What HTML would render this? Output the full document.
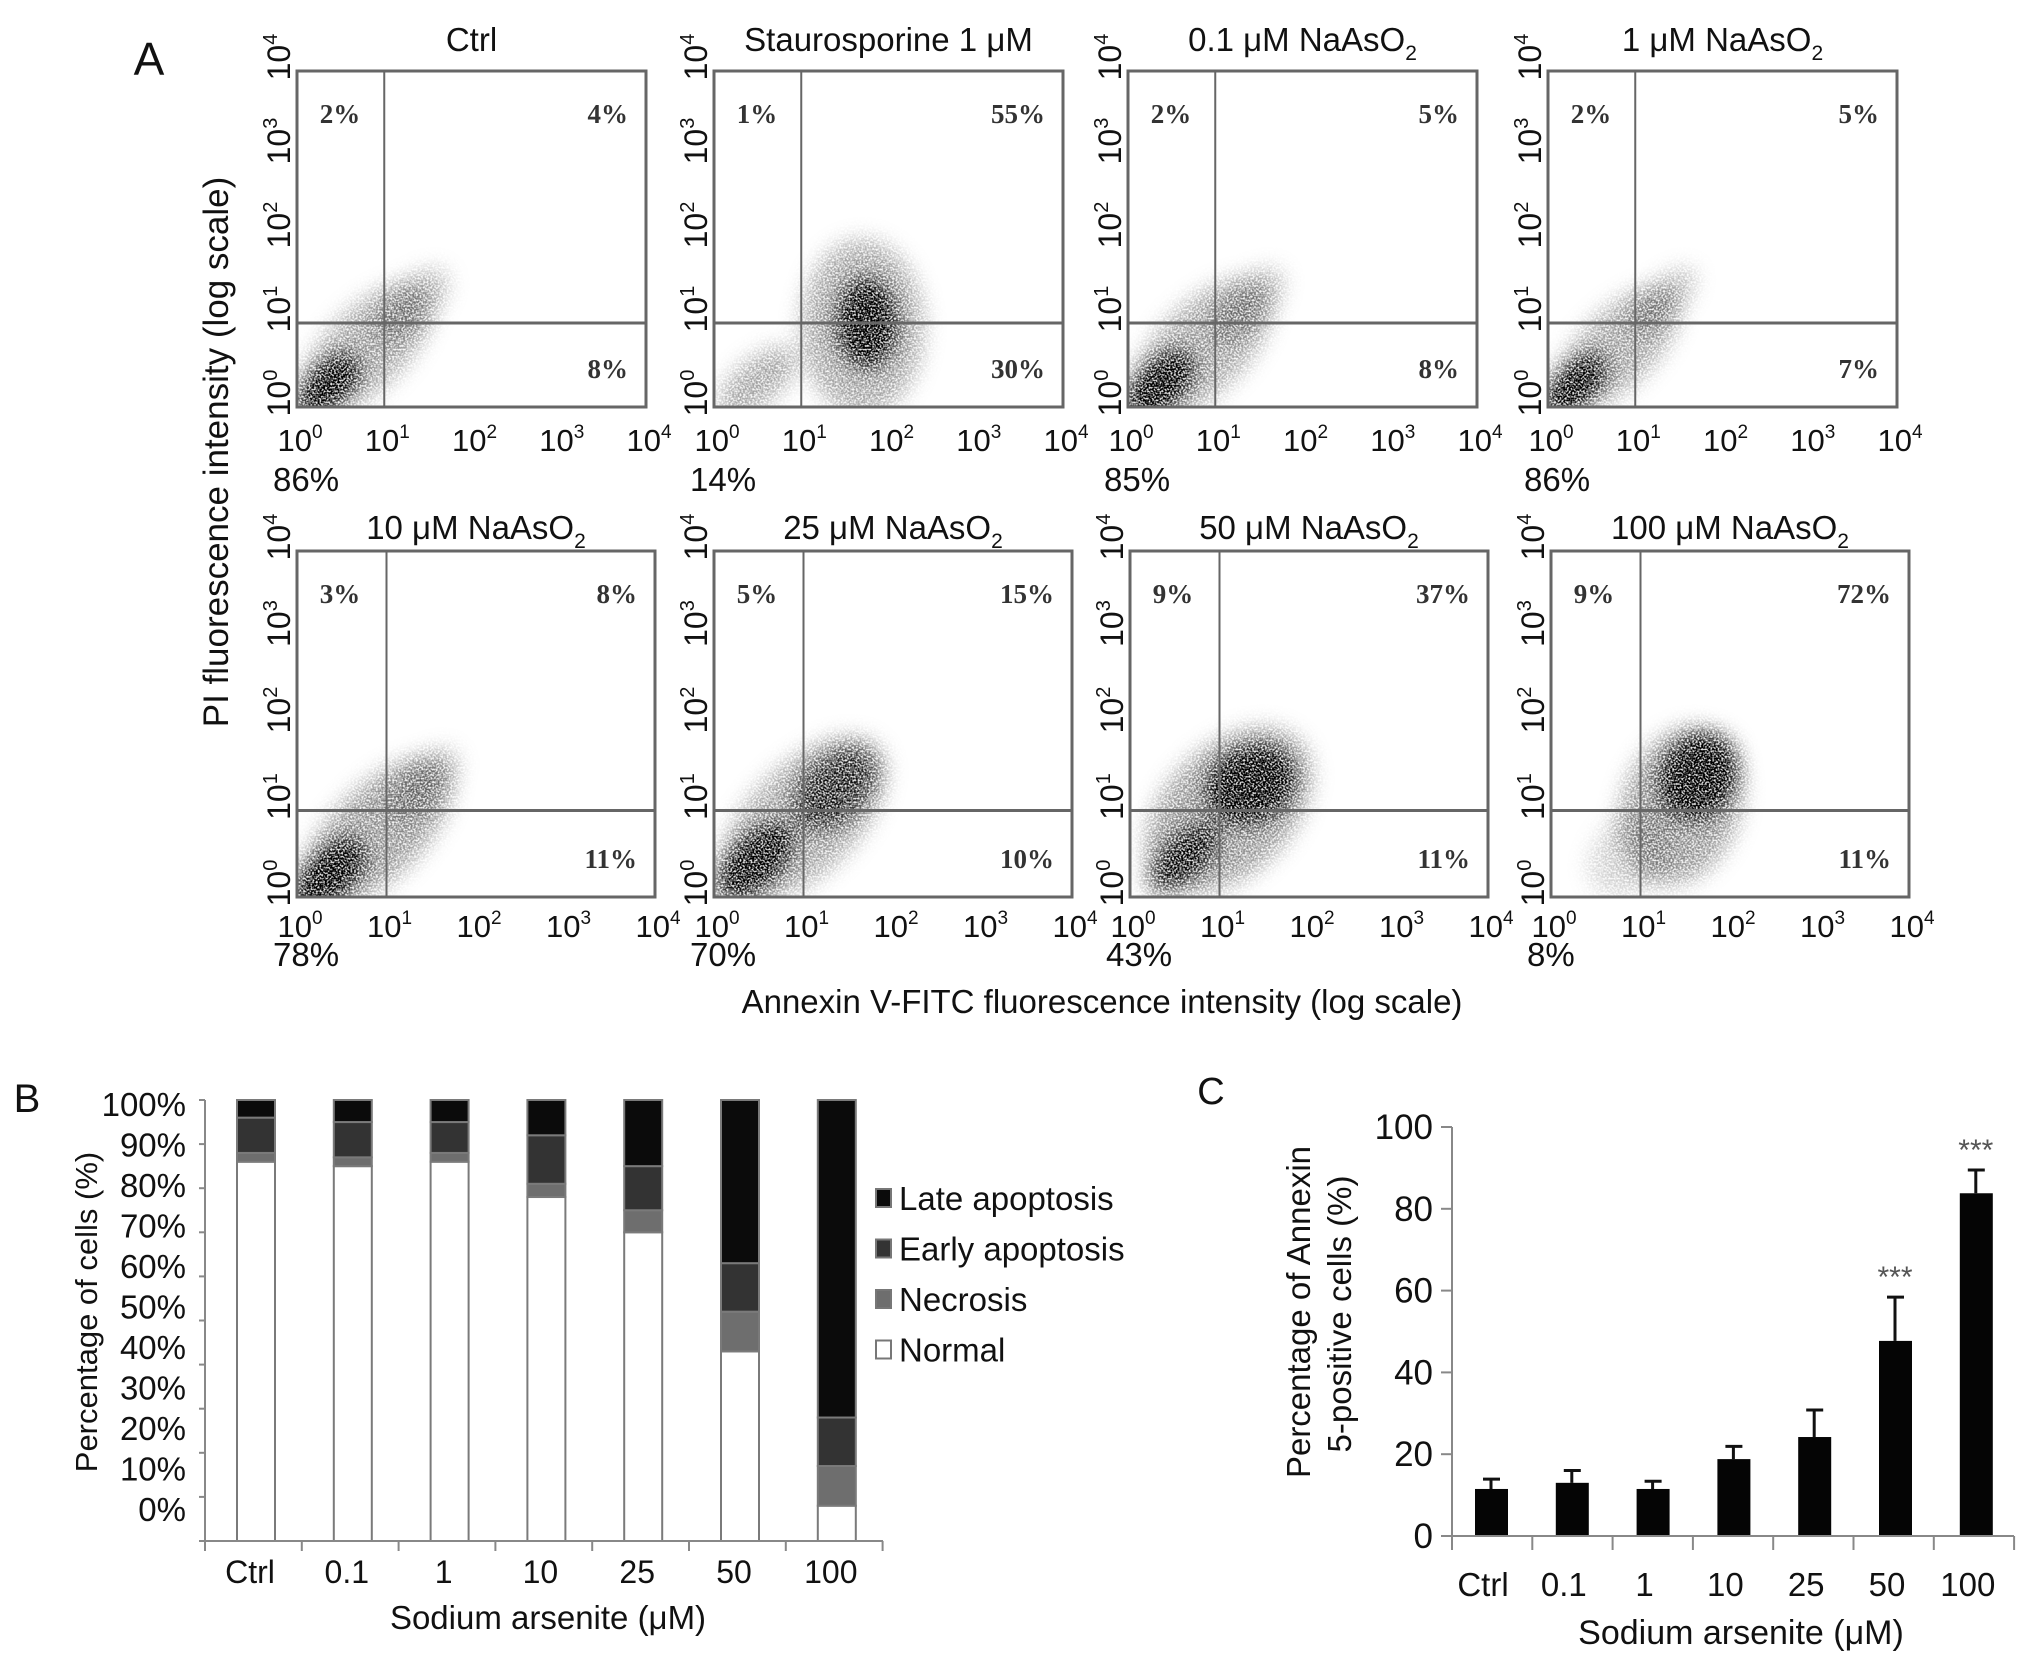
<!DOCTYPE html>
<html><head><meta charset="utf-8"><style>
html,body{margin:0;padding:0;background:#fff;}
svg{display:block;font-family:"Liberation Sans",Arial,sans-serif;}
</style></head><body>
<svg id="fig" xmlns="http://www.w3.org/2000/svg" width="2032" height="1662" viewBox="0 0 2032 1662">
<defs>
<filter id="blur" x="-50%" y="-50%" width="200%" height="200%" color-interpolation-filters="sRGB">
  <feGaussianBlur in="SourceGraphic" stdDeviation="11" result="b"/>
  <feTurbulence type="fractalNoise" baseFrequency="0.55" numOctaves="1" seed="7" result="n"/>
  <feColorMatrix in="n" type="matrix" values="0 0 0 0 0  0 0 0 0 0  0 0 0 0 0  3.2 0 0 0 -1.0" result="na"/>
  <feComposite in="b" in2="na" operator="arithmetic" k1="1.15" k2="0.12" k3="0" k4="0"/>
</filter>
</defs>
</svg>
<script>
// ---------- Panel A data ----------
const flowTitles = ['Ctrl','Staurosporine 1 μM','0.1 μM NaAsO','1 μM NaAsO','10 μM NaAsO','25 μM NaAsO','50 μM NaAsO','100 μM NaAsO'];
const flowTitleSub = ['','','2','2','2','2','2','2'];
const quadUL = [2,1,2,2,3,5,9,9];
const quadUR = [4,55,5,5,8,15,37,72];
const quadLR = [8,30,8,7,11,10,11,11];
const quadLL = [86,14,85,86,78,70,43,8];
const decadeTicks = [0,1,2,3,4];
// density clouds per plot: [logX, logY, rLong(dec), rShort(dec), angleDeg, opacity]
const clouds = [
 [[0.35,0.25,0.45,0.22,45,0.95],[0.8,0.7,0.95,0.45,45,0.3],[1.3,1.2,0.55,0.25,45,0.25]],
 [[1.75,1.0,0.5,0.32,90,0.95],[1.7,0.95,1.0,0.7,90,0.3],[0.5,0.3,0.55,0.25,40,0.3]],
 [[0.35,0.25,0.5,0.25,45,0.95],[0.85,0.7,1.0,0.5,45,0.3],[1.35,1.2,0.55,0.25,45,0.25]],
 [[0.3,0.25,0.45,0.22,45,0.95],[0.8,0.7,0.9,0.42,45,0.3],[1.3,1.25,0.5,0.2,45,0.25]],
 [[0.35,0.25,0.5,0.25,45,0.95],[0.9,0.75,1.05,0.5,45,0.35],[1.4,1.3,0.5,0.25,45,0.25]],
 [[0.45,0.4,0.55,0.27,45,0.9],[1.35,1.25,0.55,0.35,45,0.65],[1.0,0.9,1.15,0.6,45,0.3]],
 [[0.6,0.45,0.5,0.22,45,0.8],[1.35,1.3,0.5,0.4,30,0.95],[1.1,1.0,1.1,0.7,45,0.35]],
 [[1.65,1.4,0.5,0.4,60,0.95],[1.45,1.05,0.9,0.65,70,0.35],[0.9,0.5,0.55,0.4,45,0.15]]
];
// ---------- Panel B data ----------
const bCats = ['Ctrl','0.1','1','10','25','50','100'];
const bNormal = [86,85,86,78,70,43,8];
const bNecrosis = [2,2,2,3,5,9,9];
const bEarly = [8,8,7,11,10,11,11];
const bLate = [4,5,5,8,15,37,72];
const bTicks = [0,10,20,30,40,50,60,70,80,90,100];
const bLegend = ['Late apoptosis','Early apoptosis','Necrosis','Normal'];
// ---------- Panel C data ----------
const cCats = ['Ctrl','0.1','1','10','25','50','100'];
const cMeans = [11.5,13,11.5,18.8,24.2,47.7,83.8];
const cErr = [2.4,3,1.9,3.1,6.6,10.7,5.7];
const cSig = ['','','','','','***','***'];
const cTicks = [0,20,40,60,80,100];

const NS='http://www.w3.org/2000/svg';
const svg=document.getElementById('fig');
function el(tag,attrs,parent){const e=document.createElementNS(NS,tag);for(const k in attrs)e.setAttribute(k,attrs[k]);(parent||svg).appendChild(e);return e;}
function text(x,y,str,size,anchor,parent,extra){const t=el('text',Object.assign({x:x,y:y,'font-size':size,'text-anchor':anchor||'middle',fill:'#111'},extra||{}),parent);t.textContent=str;return t;}

// ================= PANEL A =================
const gA=el('g',{});


const lA=text(149,75,'A',46,'middle',gA);



const rowGeom=[{top:71,bottom:407,w:349,lefts:[297,714,1128,1548],xlab:32,ll:72,title:51},
               {top:551,bottom:897,w:358,lefts:[297,714,1130,1551],xlab:28,ll:57,title:539}];
for(let p=0;p<8;p++){
  const r=rowGeom[Math.floor(p/4)], L=r.lefts[p%4], R=L+r.w, T=r.top, B=r.bottom;
  const sx=v=>L+(R-L)*v/4, sy=v=>B-(B-T)*v/4;
  const g=el('g',{},gA);
  
  
  const cp=el('clipPath',{id:'clip'+p},g);
  el('rect',{x:L,y:T,width:R-L,height:B-T},cp);
  const cg=el('g',{'clip-path':'url(#clip'+p+')'},g);
  const bg=el('g',{filter:'url(#blur)'},cg);
  clouds[p].forEach((c,i)=>{
    const cx=sx(c[0]), cy=sy(c[1]), rl=c[2]*(R-L)/4, rs=c[3]*(R-L)/4;
    const e=el('ellipse',{cx:cx,cy:cy,rx:rl,ry:rs,fill:'#000','fill-opacity':c[5],transform:'rotate('+(-c[4])+' '+cx+' '+cy+')'},bg);
    
    
  });
  const box=el('rect',{x:L,y:T,width:R-L,height:B-T,fill:'none',stroke:'#666','stroke-width':3},g);
  
  
  const gx=el('line',{x1:sx(1),x2:sx(1),y1:T,y2:B,stroke:'#666','stroke-width':2},g);
  
  
  const gy=el('line',{x1:L,x2:R,y1:sy(1),y2:sy(1),stroke:'#666','stroke-width':3},g);
  
  
  const tt=text((L+R)/2,r.title,flowTitles[p],33,'middle',g);
  if(flowTitleSub[p]){const s=el('tspan',{dy:9,'font-size':21},tt);s.textContent=flowTitleSub[p];}
  
  
  decadeTicks.forEach(d=>{
    const t=text(sx(d)+3,B+r.xlab+12,'10',31,'middle',g);
    const s=el('tspan',{dy:-13,'font-size':19},t);s.textContent=String(d);
    
    
    const yt=text(0,0,'10',32,'middle',g,{transform:'translate('+(L-7)+','+(sy(d)-14)+') rotate(-90)'});
    const s2=el('tspan',{dy:-13,'font-size':20},yt);s2.textContent=String(d);
    
    
  });
  const qs={'font-family':'"Liberation Serif",serif','font-weight':'bold',fill:'#333'};
  const q1=text(L+43,T+52,quadUL[p]+'%',27,'middle',g,qs);
  
  
  const q2=text(R-18,T+52,quadUR[p]+'%',27,'end',g,qs);
  
  
  const q3=text(R-18,B-29,quadLR[p]+'%',27,'end',g,qs);
  
  
  const q4=text(L-24,B+r.ll+12,quadLL[p]+'%',33,'start',g);
  
  
}
const yA=text(0,0,'PI fluorescence intensity (log scale)',35,'middle',gA,{transform:'translate(228,452) rotate(-90)'});


const xA=text(1102,1013,'Annexin V-FITC fluorescence intensity (log scale)',33,'middle',gA);



// ================= PANEL B =================
const gB=el('g',{});


const lB=text(27,1112,'B',40,'middle',gB);


const yB=v=>1541-v*4.41, yBlab=v=>1509-v*4.05, xB=i=>256+i*96.8;
bTicks.forEach(v=>{
  const tk=el('line',{x1:199,x2:205,y1:yB(v),y2:yB(v),stroke:'#888','stroke-width':2},gB);
  
  
  const t=text(186,yBlab(v)+12,v+'%',33,'end',gB);
  
  
});
const colors=['#fff','#6e6e6e','#333','#0b0b0b'];
const series=[bNormal,bNecrosis,bEarly,bLate];
const segNames=['normal','necrosis','early-apoptosis','late-apoptosis'];
bCats.forEach((c,i)=>{
  let acc=0;
  series.forEach((s,k)=>{
    const r=el('rect',{x:xB(i)-19,y:yB(acc+s[i]),width:38,height:yB(acc)-yB(acc+s[i]),fill:colors[k],stroke:'#7a7a7a','stroke-width':2},gB);
    
    
    acc+=s[i];
  });
  const t=text(xB(i)-6,1583,c,32,'middle',gB);
  
  
});
const axB=el('path',{d:'M205 1100 V1541 H883',fill:'none',stroke:'#888','stroke-width':2},gB);


for(let i=0;i<=bCats.length;i++){
  const x=205+i*96.8;
  const tk=el('line',{x1:x,x2:x,y1:1541,y2:1551,stroke:'#888','stroke-width':2},gB);
  
  
}
const legColors=['#0b0b0b','#333','#6e6e6e','#fff'];
bLegend.forEach((n,k)=>{
  const y=1198+k*50.5;
  const sw=el('rect',{x:876,y:y-9,width:15,height:18,fill:legColors[k],stroke:'#777','stroke-width':2},gB);
  
  
  const t=text(899,y+12,n,33,'start',gB);
  
  
});
const yBt=text(0,0,'Percentage of cells (%)',31,'middle',gB,{transform:'translate(97,1312) rotate(-90)'});


const xBt=text(548,1629,'Sodium arsenite (μM)',33,'middle',gB);



// ================= PANEL C =================
const gC=el('g',{});


const lC=text(1211,1104,'C',38,'middle',gC);


const yC=v=>1536-v*4.09, xC=i=>1491+i*80.8;
cTicks.forEach(v=>{
  const tk=el('line',{x1:1441,x2:1452,y1:yC(v),y2:yC(v),stroke:'#888','stroke-width':2},gC);
  
  
  const t=text(1433,yC(v)+12,String(v),35,'end',gC);
  
  
});
cCats.forEach((c,i)=>{
  const x=xC(i), top=yC(cMeans[i]), et=yC(cMeans[i]+cErr[i]);
  const eb=el('path',{d:'M'+x+' '+top+' V'+et+' M'+(x-8)+' '+et+' H'+(x+9),stroke:'#111','stroke-width':3,fill:'none'},gC);
  
  
  const r=el('rect',{x:x-16,y:top,width:33,height:yC(0)-top,fill:'#050505'},gC);
  
  
  if(cSig[i]){
    const s=text(x,et-10,cSig[i],30,'middle',gC,{fill:'#555'});
    
    
  }
  const t=text(x-8,1596,c,33,'middle',gC);
  
  
});
const axC=el('path',{d:'M1452 1127 V1536 M1441 1536 H2014',fill:'none',stroke:'#888','stroke-width':2},gC);


for(let i=0;i<=cCats.length;i++){
  const x=1452+i*80.3;
  const tk=el('line',{x1:x,x2:x,y1:1536,y2:1550,stroke:'#888','stroke-width':2},gC);
  
  
}
const yCt1=text(0,0,'Percentage of Annexin',33,'middle',gC,{transform:'translate(1310,1312) rotate(-90)'});


const yCt2=text(0,0,'5-positive cells (%)',33,'middle',gC,{transform:'translate(1351,1314) rotate(-90)'});


const xCt=text(1741,1644,'Sodium arsenite (μM)',34,'middle',gC);


</script>
</body></html>
